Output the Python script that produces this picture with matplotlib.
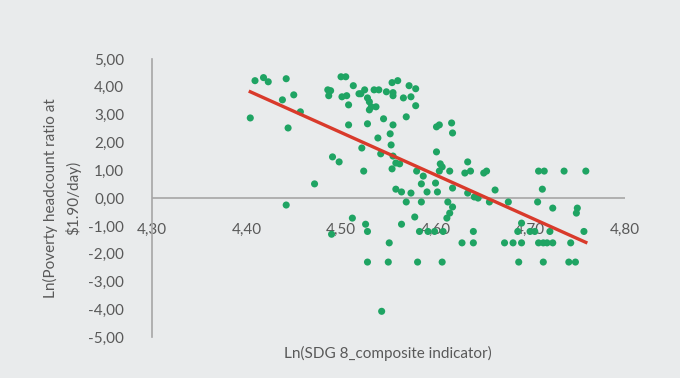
import numpy as np
import matplotlib
matplotlib.use("Agg")
import matplotlib.pyplot as plt

plt.rcParams['font.family'] = ['Lato', 'DejaVu Sans']

sdg8 = [4.404, 4.409, 4.418, 4.423, 4.442, 4.438, 4.450, 4.457, 4.444, 4.442,
        4.472, 4.486, 4.489, 4.487, 4.500, 4.505, 4.501, 4.506, 4.513, 4.508,
        4.508, 4.519, 4.525, 4.521, 4.535, 4.540, 4.528, 4.530, 4.532, 4.537,
        4.530, 4.548, 4.555, 4.555, 4.554, 4.560, 4.572, 4.579, 4.566, 4.574,
        4.579, 4.528, 4.545, 4.555, 4.569, 4.539, 4.552, 4.553, 4.601, 4.604,
        4.617, 4.618, 4.491, 4.498, 4.522, 4.542, 4.555, 4.558, 4.562, 4.554,
        4.524, 4.601, 4.605, 4.607, 4.604, 4.615, 4.580, 4.587, 4.585, 4.600,
        4.618, 4.634, 4.637, 4.631, 4.558, 4.564, 4.574, 4.591, 4.602, 4.569,
        4.585, 4.613, 4.618, 4.615, 4.612, 4.634, 4.641, 4.645, 4.651, 4.654,
        4.663, 4.657, 4.677, 4.709, 4.715, 4.736, 4.759, 4.713, 4.708, 4.724,
        4.750, 4.749, 4.691, 4.490, 4.512, 4.526, 4.528, 4.551, 4.564, 4.578,
        4.583, 4.592, 4.599, 4.608, 4.528, 4.550, 4.581, 4.607, 4.543, 4.640,
        4.628, 4.640, 4.673, 4.682, 4.691, 4.687, 4.700, 4.705, 4.721, 4.709,
        4.714, 4.718, 4.724, 4.743, 4.757, 4.688, 4.714, 4.741, 4.748]

poverty = [2.88, 4.22, 4.33, 4.18, 4.29, 3.53, 3.71, 3.10, 2.52, -0.25,
           0.51, 3.89, 3.86, 3.68, 4.36, 4.36, 3.64, 3.68, 4.04, 3.35,
           2.63, 3.75, 3.89, 3.75, 3.89, 3.89, 3.60, 3.46, 3.28, 3.28,
           3.17, 3.82, 3.79, 3.68, 4.15, 4.22, 4.04, 3.93, 3.60, 3.64,
           3.32, 2.67, 2.85, 2.63, 2.92, 2.16, 2.31, 1.91, 2.56, 2.63,
           2.70, 2.34, 1.48, 1.30, 1.80, 1.59, 1.51, 1.26, 1.23, 1.05,
           0.97, 1.66, 1.23, 1.12, 0.97, 0.97, 0.97, 0.79, 0.51, 0.54,
           0.36, 1.30, 0.97, 0.90, 0.32, 0.22, 0.18, 0.22, 0.22, -0.14,
           -0.14, -0.14, -0.32, -0.54, -0.72, 0.18, 0.04, 0.00, 0.90, 0.97,
           0.29, -0.14, -0.14, 0.97, 0.97, 0.97, 0.97, 0.32, -0.14, -0.36,
           -0.36, -0.54, -0.90, -1.30, -0.72, -0.94, -1.20, -1.61, -0.94, -0.68,
           -1.20, -1.20, -1.20, -1.20, -2.30, -2.30, -2.30, -2.30, -4.07, -1.20,
           -1.61, -1.61, -1.61, -1.61, -1.61, -1.20, -1.20, -1.20, -1.20, -1.61,
           -1.61, -1.61, -1.61, -1.61, -1.20, -2.30, -2.30, -2.30, -2.30]

x_ticks = [4.30, 4.40, 4.50, 4.60, 4.70, 4.80]
y_ticks = [5, 4, 3, 2, 1, 0, -1, -2, -3, -4, -5]

bg = '#e9ebec'
fig = plt.figure(figsize=(6.8, 3.78), dpi=100, facecolor=bg)
ax = fig.add_axes([0.2235, 0.108, 0.695, 0.736], facecolor=bg)

x = np.array(sdg8)
y = np.array(poverty)
ax.scatter(x, y, s=26, color='#1fa463', edgecolors='none', zorder=3)

coef = np.polyfit(x, y, 1)
xl = np.array([x.min(), x.max()])
ax.plot(xl, np.polyval(coef, xl), color='#d93a2b', lw=2.4, zorder=4)

ax.set_xlim(4.30, 4.80)
ax.set_ylim(-5, 5)

for s in ['top', 'right', 'bottom']:
    ax.spines[s].set_visible(False)
ax.spines['left'].set_color('#a6a6a6')
ax.spines['left'].set_linewidth(1.2)
ax.axhline(0, color='#a6a6a6', lw=1.2, zorder=1)

ax.set_yticks(y_ticks)
ax.set_yticklabels([f"{v:.2f}".replace('.', ',') for v in y_ticks])
ax.tick_params(axis='y', length=0, pad=20, labelsize=11, labelcolor='#595959')

ax.set_xticks([])
for t in x_ticks:
    ax.annotate(f"{t:.2f}".replace('.', ','), xy=(t, 0), xytext=(0, -23),
                textcoords='offset points', ha='center', va='center',
                fontsize=11, color='#595959', zorder=2)

ax.set_ylabel("Ln(Poverty headcount ratio at\n$1.90/day)", fontsize=11,
              color='#595959', linespacing=1.6, labelpad=5)
ax.set_xlabel("Ln(SDG 8_composite indicator)", fontsize=11, color='#595959',
              labelpad=6)

fig.savefig('out.png', dpi=100, facecolor=bg)
